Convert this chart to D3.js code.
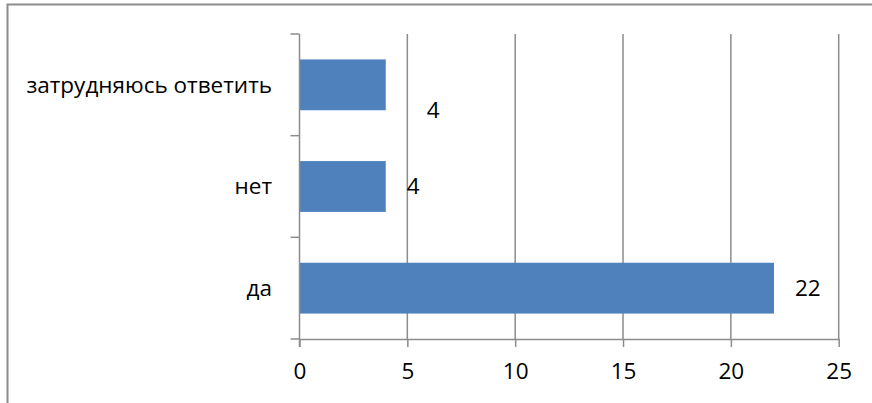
<!DOCTYPE html>
<html>
<head>
<meta charset="utf-8">
<script src="https://cdn.jsdelivr.net/npm/d3@7"></script>
<style>
  html, body { margin: 0; padding: 0; background: #fff; }
  svg { display: block; }
  text { font-family: "Open Sans", sans-serif; fill: #000; }
</style>
</head>
<body>
<svg id="chart" width="872" height="403"></svg>
<script>
// Survey answers, drawn bottom-to-top
const categories = ["да", "нет", "затрудняюсь ответить"];
const counts = [22, 4, 4];
const xTicks = [0, 5, 10, 15, 20, 25];

const W = 872, H = 403;
const plot = { left: 299.5, right: 838.7, top: 34, bottom: 339 };
const fontSize = 22.5;
const fontFamily = "'Open Sans', sans-serif";

const svg = d3.select("#chart");

// outer chart frame
svg.append("rect")
  .attr("x", 7.5).attr("y", 4.5)
  .attr("width", W).attr("height", H)
  .attr("fill", "none").attr("stroke", "#8c8c8c").attr("stroke-width", 2);

const x = d3.scaleLinear().domain([0, 25]).range([plot.left, plot.right]);
const y = d3.scaleBand()
  .domain(categories.slice().reverse())
  .range([plot.top, plot.bottom])
  .paddingInner(0.5).paddingOuter(0.25);

// vertical gridlines
svg.append("g").selectAll("line")
  .data(xTicks.filter(d => d > 0))
  .join("line")
  .attr("x1", d => x(d)).attr("x2", d => x(d))
  .attr("y1", plot.top).attr("y2", plot.bottom)
  .attr("stroke", "#8c8c8c").attr("stroke-width", 1.5);

// bars
svg.append("g").selectAll("rect")
  .data(categories.map((c, i) => ({ c, v: counts[i] })))
  .join("rect")
  .attr("x", x(0))
  .attr("y", d => y(d.c))
  .attr("width", d => x(d.v) - x(0))
  .attr("height", y.bandwidth())
  .attr("fill", "#4f81bd");

// x axis
const xAxis = svg.append("g")
  .attr("transform", `translate(0,${plot.bottom})`)
  .call(d3.axisBottom(x).tickValues(xTicks).tickSize(8).tickPadding(16).tickSizeOuter(0));
xAxis.select(".domain").attr("stroke", "#8c8c8c").attr("stroke-width", 1.5);
xAxis.selectAll(".tick line").attr("stroke", "#8c8c8c").attr("stroke-width", 1.5);
xAxis.selectAll("text").attr("font-size", fontSize).attr("font-family", fontFamily).attr("fill", "#000");

// y axis: line with ticks at category boundaries
const step = (plot.bottom - plot.top) / categories.length;
const yg = svg.append("g");
yg.append("line")
  .attr("x1", plot.left).attr("x2", plot.left)
  .attr("y1", plot.top).attr("y2", plot.bottom + 8)
  .attr("stroke", "#8c8c8c").attr("stroke-width", 1.5);
yg.selectAll("line.tk")
  .data(d3.range(categories.length + 1))
  .join("line").attr("class", "tk")
  .attr("x1", plot.left - 9).attr("x2", plot.left)
  .attr("y1", i => plot.top + i * step).attr("y2", i => plot.top + i * step)
  .attr("stroke", "#8c8c8c").attr("stroke-width", 1.5);
yg.selectAll("text")
  .data(categories)
  .join("text")
  .attr("x", 272)
  .attr("y", d => y(d) + y.bandwidth() / 2)
  .attr("dy", "0.35em")
  .attr("text-anchor", "end")
  .attr("font-size", fontSize)
  .text(d => d);

// value labels (the top one sits a little lower and further out)
const labelNudge = { "затрудняюсь ответить": [20, 25] };
svg.append("g").selectAll("text")
  .data(categories.map((c, i) => ({ c, v: counts[i] })))
  .join("text")
  .attr("x", d => x(d.v) + 21 + (labelNudge[d.c] ? labelNudge[d.c][0] : 0))
  .attr("y", d => y(d.c) + y.bandwidth() / 2 + (labelNudge[d.c] ? labelNudge[d.c][1] : 0))
  .attr("dy", "0.35em")
  .attr("font-size", fontSize)
  .text(d => d.v);
</script>
</body>
</html>
